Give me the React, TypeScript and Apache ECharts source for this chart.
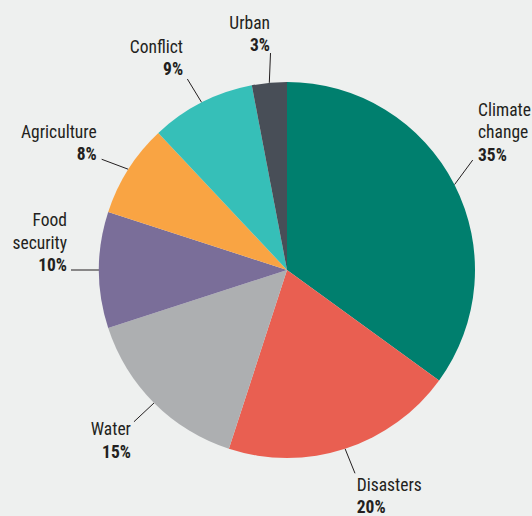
import React, { useEffect, useRef } from "react";
import * as echarts from "echarts";

// ---- data ----
const categories = [
  "Climate change",
  "Disasters",
  "Water",
  "Food security",
  "Agriculture",
  "Conflict",
  "Urban",
];
const shares = [35, 20, 15, 10, 8, 9, 3];
const sliceColors = [
  "#007f6e",
  "#e95f51",
  "#adafb1",
  "#7a6e99",
  "#f9a443",
  "#36bfb8",
  "#484e57",
];

// ---- label styling (offsets from the library's label-line anchor on the slice edge) ----
const TEXT_OFFSETS: number[][] = [
  [23.5, -85.9],
  [11.6, 24.5],
  [-23.1, 15.1],
  [-32, -61],
  [-31.6, -48.8],
  [-18.6, -66.8],
  [0.7, -71.1],
];
const LINE_OFFSETS: number[][] = [
  [18.2, -24.6],
  [9.9, 24.5],
  [-20.1, 18.8],
  [-28, 0],
  [-26.6, -10],
  [-14.3, -23.5],
  [1.2, -29.8],
];
const ALIGNS = ["left", "left", "right", "right", "right", "right", "right"];

const FONT = "'Roboto Condensed', Roboto, 'Liberation Sans', sans-serif";
const INK = "#231f20";
const FS = 17.5;

export default function App() {
  const ref = useRef<HTMLDivElement>(null);

  useEffect(() => {
    document.body.style.margin = "0";
    const chart = echarts.init(ref.current!, null, { renderer: "svg" });
    chart.setOption({
      animation: false,
      backgroundColor: "#eef0ef",
      series: [
        {
          type: "pie",
          center: [287, 270],
          radius: 188,
          startAngle: 90,
          clockwise: true,
          avoidLabelOverlap: false,
          silent: true,
          itemStyle: { borderWidth: 0 },
          data: categories.map((name, i) => ({
            name,
            value: shares[i],
            itemStyle: { color: sliceColors[i] },
          })),
          label: {
            show: true,
            position: "outside",
            formatter: (p: any) =>
              String(p.name)
                .split(" ")
                .map((w: string) => `{n|${w}}`)
                .join("\n") + `\n{p|${p.value}%}`,
            rich: {
              n: {
                fontFamily: FONT,
                fontSize: FS,
                lineHeight: 22.5,
                color: INK,
              },
              p: {
                fontFamily: FONT,
                fontSize: FS,
                lineHeight: 22.5,
                fontWeight: "bold",
                color: INK,
              },
            },
          },
          labelLine: {
            show: true,
            length: 26,
            length2: 0,
            lineStyle: { color: INK, width: 1 },
          },
          labelLayout: (params: any) => {
            const i = params.dataIndex;
            const pts = params.labelLinePoints;
            if (!pts || !pts[0]) return {};
            const p0 = pts[0];
            const t = TEXT_OFFSETS[i];
            const l = LINE_OFFSETS[i];
            const end = [p0[0] + l[0], p0[1] + l[1]];
            return {
              x: p0[0] + t[0],
              y: p0[1] + t[1],
              align: ALIGNS[i],
              verticalAlign: "top",
              labelLinePoints: [[p0[0], p0[1]], end, end],
            };
          },
        },
      ],
    });
    return () => chart.dispose();
  }, []);

  return (
    <div
      ref={ref}
      style={{ position: "absolute", left: 0, top: 0, width: 532, height: 516 }}
    />
  );
}
